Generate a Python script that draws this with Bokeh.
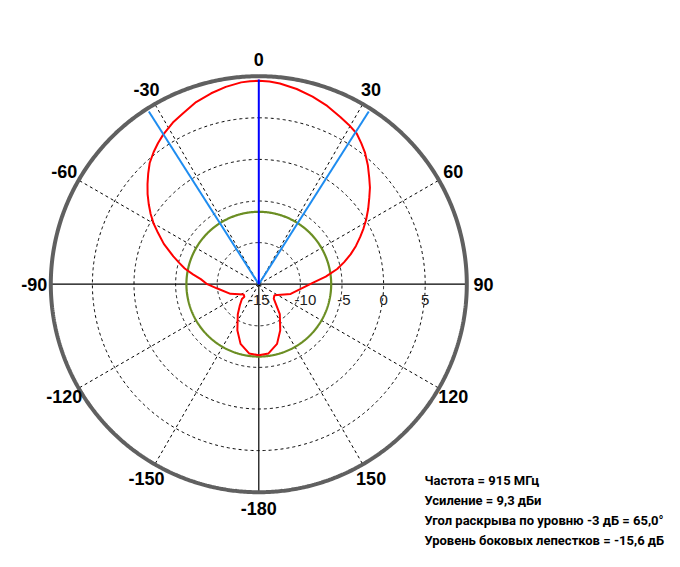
import numpy as np
from bokeh.plotting import figure
from bokeh.models import Range1d, Label
from bokeh.core.properties import value
from bokeh.embed import file_html
from bokeh.resources import INLINE

# ---- data ----
ANGLES_DEG = [-180, -172, -163, -155, -145, -138, -131.3, -131, -124.5, -108.7, -96, -90,
              -85, -81.5, -78, -75, -72, -67, -63, -60, -57, -54, -51, -48, -45, -42, -38.5,
              -35.5, -32.5, -28, -24, -19, -14, -9.5, -5, -2.5, 0,
              3, 6, 11, 16, 21, 26, 29.5, 33, 36, 39, 42.5, 46, 49, 52, 55.5, 59, 62, 65,
              68.5, 72, 75.5, 79, 83.5, 88, 107, 125.7, 134, 145, 155, 163, 172, 180]
GAIN_DB = [-6.45, -6.6, -7.5, -8.9, -10.6, -11.6, -12.3, -12.7, -12.8, -11.4, -10.0, -8.8,
           -8.0, -7.0, -5.9, -5.1, -4.2, -2.6, -1.4, -0.4, 0.5, 1.35, 2.2, 3.0, 3.8, 4.6, 5.3,
           5.85, 6.35, 7.0, 7.45, 8.15, 8.65, 9.05, 9.35, 9.43, 9.45,
           9.4, 9.25, 8.9, 8.45, 7.95, 7.35, 7.0, 6.6, 5.95, 5.3, 4.4, 3.45, 2.7, 1.85, 0.95,
           0.05, -0.75, -1.55, -2.45, -3.4, -4.4, -5.4, -6.9, -8.4, -11.0, -12.7, -12.5,
           -10.6, -8.9, -7.5, -6.6, -6.45]
R_MIN, R_MAX = -15, 10
RING_DB = [-10, -5, 0, 5]
RING_LABELS = ["-15", "-10", "-5", "0", "5"]
RING_LABEL_DB = [-15, -10, -5, 0, 5]
SPOKE_DEG = [30, 60, 120, 150, -30, -60, -120, -150]
ANGLE_LABEL_DEG = [0, 30, 60, 90, 120, 150, 180, -150, -120, -90, -60, -30]
ANGLE_LABELS = ["0", "30", "60", "90", "120", "150", "-180", "-150", "-120", "-90", "-60", "-30"]
SIDELOBE_DB = -6.3
BEAM_HALF_DEG = 32.5
INFO = ["Частота = 915 МГц",
        "Усиление = 9,3 дБи",
        "Угол раскрыва по уровню -3 дБ = 65,0°",
        "Уровень боковых лепестков = -15,6 дБ"]

# ---- geometry ----
W, H = 680, 567
PX = 8.32
CX, CY = 258.3, 283.7   # centre in figure pixels (from top-left)

def pol(deg, db):
    th = np.radians(np.asarray(deg, dtype=float))
    r = np.asarray(db, dtype=float) - R_MIN
    return r * np.sin(th), r * np.cos(th)

p = figure(width=W, height=H, output_backend="svg", toolbar_location=None,
           x_range=Range1d(-CX / PX, (W - CX) / PX),
           y_range=Range1d(-(H - CY) / PX, CY / PX),
           min_border=0)
p.axis.visible = False
p.grid.visible = False
p.outline_line_color = None
p.background_fill_color = "white"

t = np.linspace(0, 360, 721)

# dashed rings
for rd in RING_DB:
    x, y = pol(t, np.full_like(t, rd))
    p.line(x, y, line_color="black", line_width=1, line_dash="3 3")
# dashed spokes
for a in SPOKE_DEG:
    x, y = pol([a, a], [R_MIN, R_MAX])
    p.line(x, y, line_color="black", line_width=1, line_dash="3 3")
# solid axes
x, y = pol([-90, 90], [R_MAX, R_MAX])
p.line([x[0], x[1]], [0, 0], line_color="black", line_width=1.2)
x, y = pol([180, 180], [R_MIN, R_MAX])
p.line(x, y, line_color="black", line_width=1.2)

# side-lobe level circle
x, y = pol(t, np.full_like(t, SIDELOBE_DB))
p.line(x, y, line_color="#6b8e23", line_width=2.2)

# pattern
x, y = pol(ANGLES_DEG, GAIN_DB)
p.line(x, y, line_color="#ff0000", line_width=2)

# beam lines
for a, c in [(-BEAM_HALF_DEG, "#1e8cf0"), (BEAM_HALF_DEG, "#1e8cf0"), (0, "#0000ff")]:
    x, y = pol([a, a], [R_MIN, R_MAX - 0.4])
    p.line(x, y, line_color=c, line_width=2)

# outer ring
x, y = pol(t, np.full_like(t, R_MAX))
p.line(x, y, line_color="#606060", line_width=4)

# radial labels
rx = np.asarray(RING_LABEL_DB, dtype=float) - R_MIN
offs = [0, 5, 2, 0, 0]
p.text(x=rx, y=np.zeros_like(rx), text=RING_LABELS, text_align="center",
       text_baseline="middle", y_offset=16, x_offset=offs,
       text_font=value("Liberation Sans"), text_font_size="15px", text_color="#202020")

# angle labels
lx, ly = pol(ANGLE_LABEL_DEG, np.full(len(ANGLE_LABEL_DEG), R_MAX + 2.0))
p.text(x=lx, y=ly, text=ANGLE_LABELS, text_align="center", text_baseline="middle",
       text_font=value("Liberation Sans"), text_font_style="bold", text_font_size="18px",
       text_color="black")

# info text
for i, s in enumerate(INFO):
    p.add_layout(Label(x=424, y=H - 480 - 20 * i, x_units="screen", y_units="screen",
                       text=s, text_align="left", text_baseline="middle",
                       text_font="Roboto", text_font_style="bold", text_font_size="13px",
                       text_color="black"))

open("out.html", "w").write(file_html(p, INLINE))
